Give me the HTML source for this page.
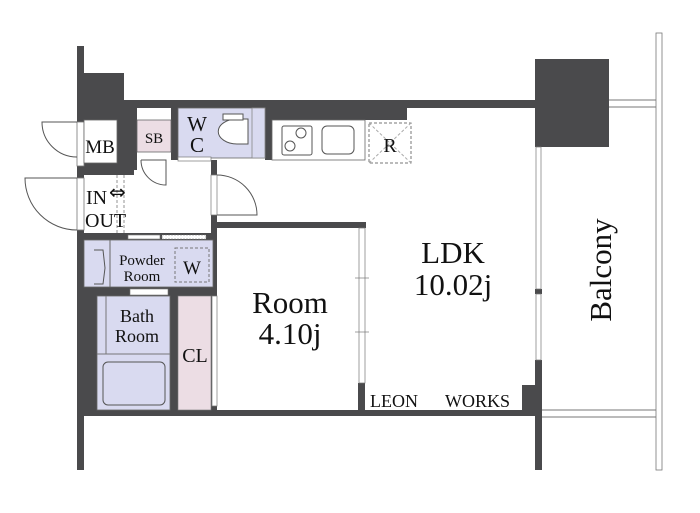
<!DOCTYPE html>
<html><head><meta charset="utf-8"><style>
html,body{margin:0;padding:0;background:#fff;width:700px;height:513px;overflow:hidden}
svg{display:block}
text{font-family:"Liberation Serif",serif;fill:#111}
</style></head><body>
<svg width="700" height="513" viewBox="0 0 700 513">
<g fill="#4a4a4c">
<rect x="77" y="46" width="7" height="424"/>
<rect x="77" y="73" width="47" height="47"/>
<rect x="84" y="73" width="40" height="90" />
<rect x="117" y="100" width="20" height="70"/>
<rect x="84" y="163" width="50" height="12"/>
<rect x="124" y="100" width="411" height="8"/>
<rect x="171" y="100" width="7" height="60"/>
<rect x="265" y="100" width="142" height="20"/>
<rect x="265" y="108" width="7" height="52"/>
<rect x="535" y="59" width="74" height="88"/>
<rect x="535" y="360" width="7" height="110"/>
<rect x="522" y="385" width="20" height="31"/>
<rect x="535" y="289" width="7" height="5"/>
<rect x="84" y="410" width="456" height="6"/>
<rect x="211" y="160" width="6" height="15"/>
<rect x="211" y="215" width="6" height="81"/>
<rect x="217" y="222" width="149" height="6"/>
<rect x="84" y="233" width="133" height="7"/>
<rect x="84" y="287" width="133" height="9"/>
<rect x="84" y="287" width="13" height="123"/>
<rect x="170" y="287" width="8" height="123"/>
<rect x="211" y="287" width="6" height="123"/>
<rect x="358" y="383" width="7" height="30"/>
</g>
<rect x="77" y="122" width="7" height="44" fill="#fff" stroke="#777" stroke-width="0.8"/>
<rect x="77" y="178" width="7" height="52" fill="#fff" stroke="#777" stroke-width="0.8"/>
<path d="M77 122 L42 122 A35 35 0 0 0 77 157" fill="none" stroke="#555" stroke-width="1"/>
<path d="M77 178 L25 178 A52 52 0 0 0 77 230" fill="none" stroke="#555" stroke-width="1"/>
<rect x="84" y="120" width="33" height="43" fill="#fff" stroke="#666" stroke-width="0.8"/>
<text x="100" y="153" font-size="19" text-anchor="middle">MB</text>
<rect x="137" y="120" width="34" height="32" fill="#ecdde4" stroke="#666" stroke-width="0.8"/>
<text x="154" y="143" font-size="15" text-anchor="middle">SB</text>
<path d="M141 160 L166 160 L166 185 A25 25 0 0 1 141 160" fill="none" stroke="#555" stroke-width="1"/>
<rect x="178" y="108" width="87" height="50" fill="#d9daf0" stroke="#666" stroke-width="0.8"/>
<rect x="252" y="108" width="13" height="50" fill="#d9daf0" stroke="#888" stroke-width="0.8"/>
<path d="M237 119 A18 12 0 0 0 237 144 L248 144 L248 119 Z" fill="#fff" stroke="#555"/>
<rect x="223" y="114" width="20" height="6" fill="#fff" stroke="#555"/>
<text x="197" y="131" font-size="21" text-anchor="middle">W</text>
<text x="197" y="152" font-size="21" text-anchor="middle">C</text>
<rect x="178" y="157" width="33" height="4" fill="#fff" stroke="#777" stroke-width="0.7"/>
<rect x="211" y="175" width="6" height="40" fill="#fff" stroke="#777" stroke-width="0.7"/>
<path d="M217 175 A40 40 0 0 1 257 215 L217 215" fill="none" stroke="#555"/>
<line x1="117" y1="175" x2="117" y2="235" stroke="#666" stroke-dasharray="3,2" stroke-width="0.7"/>
<line x1="124" y1="175" x2="124" y2="235" stroke="#666" stroke-dasharray="3,2" stroke-width="0.7"/>
<text x="86" y="204" font-size="20">IN</text>
<text x="85" y="227" font-size="20">OUT</text>
<text x="109" y="199" font-size="20" style="font-family:'DejaVu Sans',sans-serif">⇔</text>
<rect x="272" y="120" width="93" height="40" fill="#fff" stroke="#666" stroke-width="0.8"/>
<rect x="282" y="126" width="30" height="29" rx="2" fill="#fff" stroke="#555"/>
<circle cx="301" cy="133" r="5" fill="none" stroke="#555"/>
<circle cx="290" cy="146" r="5" fill="none" stroke="#555"/>
<rect x="322" y="126" width="32" height="28" rx="5" fill="#fff" stroke="#555"/>
<rect x="369" y="123" width="42" height="40" fill="none" stroke="#777" stroke-dasharray="3,2"/>
<path d="M369 123 L411 163 M411 123 L369 163" stroke="#aaa" stroke-dasharray="3,2"/>
<text x="390" y="152" font-size="20" text-anchor="middle">R</text>
<rect x="84" y="240" width="129" height="47" fill="#d9daf0" stroke="#666" stroke-width="0.8"/>
<line x1="110" y1="240" x2="110" y2="287" stroke="#666"/>
<path d="M94 250 L103 250 L105 268 L103 284 L94 284" fill="none" stroke="#555"/>
<text x="142" y="265" font-size="15" text-anchor="middle">Powder</text>
<text x="142" y="281" font-size="15" text-anchor="middle">Room</text>
<rect x="175" y="248" width="34" height="34" fill="none" stroke="#777" stroke-dasharray="3,2"/>
<text x="192" y="274" font-size="19" text-anchor="middle">W</text>
<rect x="128" y="235" width="32" height="4" fill="#fff" stroke="#777" stroke-width="0.6"/>
<rect x="162" y="235" width="44" height="4" fill="#fff" stroke="#777" stroke-width="0.6" stroke-dasharray="2,1"/>
<rect x="97" y="296" width="73" height="114" fill="#d9daf0" stroke="#666" stroke-width="0.8"/>
<line x1="106" y1="296" x2="106" y2="354" stroke="#777"/>
<line x1="97" y1="354" x2="170" y2="354" stroke="#777"/>
<rect x="103" y="362" width="62" height="43" rx="5" fill="none" stroke="#555"/>
<rect x="130" y="289" width="38" height="6" fill="#fff" stroke="#777" stroke-width="0.6"/>
<text x="137" y="322" font-size="18" text-anchor="middle">Bath</text>
<text x="137" y="342" font-size="18" text-anchor="middle">Room</text>
<rect x="178" y="296" width="33" height="114" fill="#ecdde4" stroke="#777" stroke-width="0.6"/>
<text x="195" y="362" font-size="20" text-anchor="middle">CL</text>
<rect x="212" y="296" width="5" height="110" fill="#fff" stroke="#777" stroke-width="0.7"/>
<rect x="359" y="228" width="6" height="155" fill="#fff" stroke="#777" stroke-width="0.7"/>
<line x1="355" y1="278" x2="369" y2="278" stroke="#777" stroke-width="0.7"/>
<line x1="355" y1="332" x2="369" y2="332" stroke="#777" stroke-width="0.7"/>
<rect x="536" y="147" width="5" height="142" fill="#fff" stroke="#777" stroke-width="0.7"/>
<rect x="536" y="294" width="5" height="66" fill="#fff" stroke="#777" stroke-width="0.7"/>
<rect x="656" y="33" width="6" height="437" fill="#fff" stroke="#777" stroke-width="0.8"/>
<line x1="609" y1="100" x2="656" y2="100" stroke="#777"/>
<line x1="609" y1="107" x2="656" y2="107" stroke="#777"/>
<line x1="542" y1="410" x2="656" y2="410" stroke="#777"/>
<line x1="542" y1="417" x2="656" y2="417" stroke="#777"/>
<text x="290" y="313" font-size="31" text-anchor="middle">Room</text>
<text x="290" y="344" font-size="31" text-anchor="middle">4.10j</text>
<text x="453" y="263" font-size="31" text-anchor="middle">LDK</text>
<text x="453" y="295" font-size="31" text-anchor="middle">10.02j</text>
<text x="370" y="407" font-size="18">LEON</text>
<text x="445" y="407" font-size="18">WORKS</text>
<text transform="translate(611,270) rotate(-90)" font-size="31" text-anchor="middle">Balcony</text>
</svg>
</body></html>
